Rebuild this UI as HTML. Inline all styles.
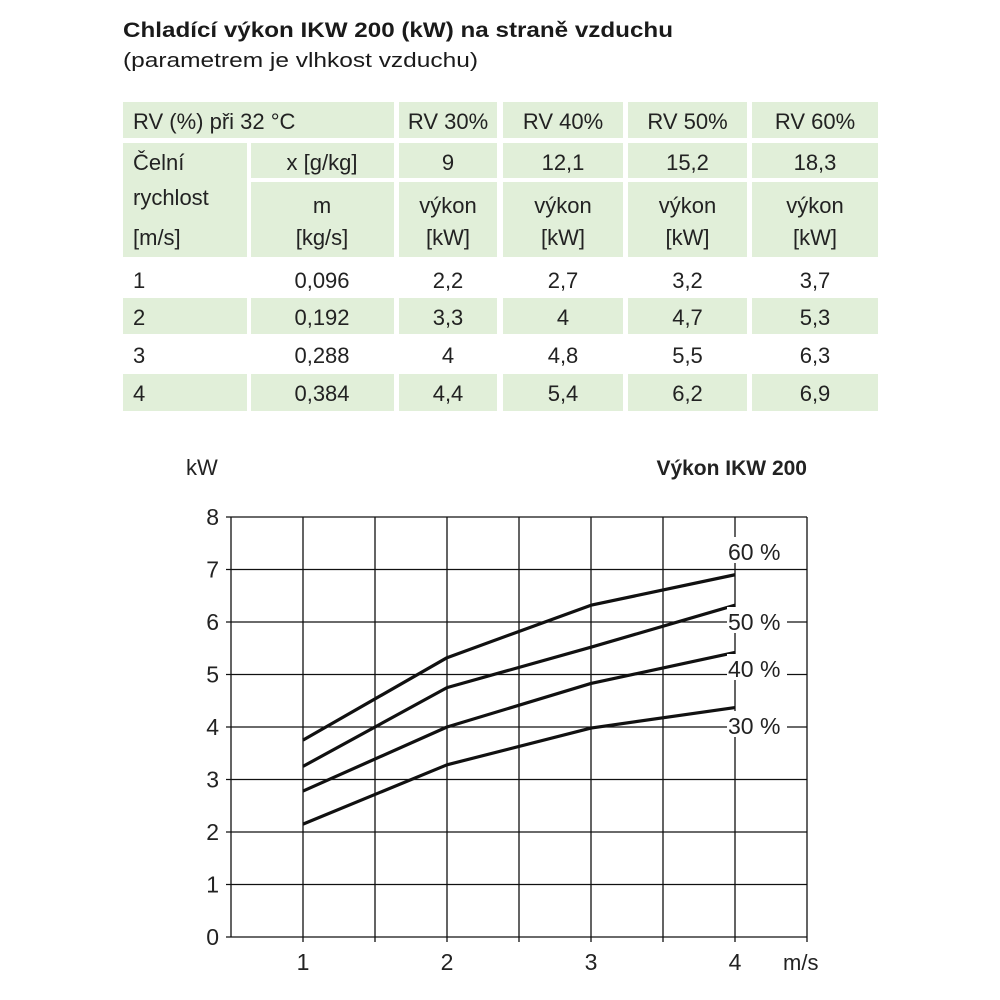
<!DOCTYPE html>
<html><head><meta charset="utf-8"><style>
body{margin:0;background:#fff}
svg{display:block;font-family:"Liberation Sans",sans-serif}
</style></head><body>
<svg id="root" width="1000" height="1000" viewBox="0 0 1000 1000" xmlns="http://www.w3.org/2000/svg">
<text x="123" y="37" font-size="21" font-weight="bold" fill="#1a1a1a" textLength="550" lengthAdjust="spacingAndGlyphs">Chladící výkon IKW 200 (kW) na straně vzduchu</text>
<text x="123" y="67" font-size="20" fill="#1a1a1a" textLength="355" lengthAdjust="spacingAndGlyphs">(parametrem je vlhkost vzduchu)</text>
<g id="table"></g>
<g id="chart"></g>
</svg>
<script>
const NS="http://www.w3.org/2000/svg";
function mk(tag,attrs,parent,txt){const e=document.createElementNS(NS,tag);for(const k in attrs)e.setAttribute(k,attrs[k]);if(txt!==undefined)e.textContent=txt;parent.appendChild(e);return e;}
// ---- table ----
const tbl=document.getElementById('table');
const G="#e1efd9";
const colX=[[123,247],[251,394],[399,497],[503,623],[628,747],[752,878]];
function cell(x0,x1,y0,y1,fill){if(fill){const r=mk('rect',{x:x0,y:y0,width:x1-x0,height:y1-y0,fill:fill},tbl);

}}
function tx(x,y,s,anchor){const t=mk('text',{x:x,y:y,'font-size':22,fill:'#222','text-anchor':anchor||'middle'},tbl,s);

}
// header row
cell(123,394,102,138,G);for(let i=2;i<6;i++)cell(colX[i][0],colX[i][1],102,138,G);
tx(133,129,"RV (%) při 32 °C","start");
const hdr=["RV 30%","RV 40%","RV 50%","RV 60%"];
hdr.forEach((h,i)=>tx((colX[i+2][0]+colX[i+2][1])/2,129,h));
// row 2/3
cell(123,247,143,257,G);
for(let i=1;i<6;i++){cell(colX[i][0],colX[i][1],143,178,G);cell(colX[i][0],colX[i][1],182,257,G);}
tx(133,170,"Čelní","start");tx(133,205,"rychlost","start");tx(133,245,"[m/s]","start");
tx(322,170,"x [g/kg]");
const xg=["9","12,1","15,2","18,3"];xg.forEach((h,i)=>tx((colX[i+2][0]+colX[i+2][1])/2,170,h));
tx(322,213,"m");tx(322,245,"[kg/s]");
for(let i=2;i<6;i++){tx((colX[i][0]+colX[i][1])/2,213,"výkon");tx((colX[i][0]+colX[i][1])/2,245,"[kW]");}
const rowsY=[[261,296],[298,334],[336,372],[374,411]];
const speeds=["1","2","3","4"];
const mass=["0,096","0,192","0,288","0,384"];
const tv30=["2,2","3,3","4","4,4"],tv40=["2,7","4","4,8","5,4"],tv50=["3,2","4,7","5,5","6,2"],tv60=["3,7","5,3","6,3","6,9"];
rowsY.forEach((r,j)=>{
  if(j%2==1)for(let i=0;i<6;i++)cell(colX[i][0],colX[i][1],r[0],r[1],G);
  const by=r[0]+27;
  tx(133,by,speeds[j],"start");tx(322,by,mass[j]);
  [tv30,tv40,tv50,tv60].forEach((arr,i)=>tx((colX[i+2][0]+colX[i+2][1])/2,by,arr[j]));
});
// ---- chart ----
const ch=document.getElementById('chart');
const xCats=[1,2,3,4];
const s30=[2.15,3.28,3.98,4.37];
const s40=[2.78,4.0,4.83,5.42];
const s50=[3.25,4.75,5.52,6.32];
const s60=[3.75,5.32,6.32,6.9];
const yTicks=[0,1,2,3,4,5,6,7,8];
const xTicks=[1,2,3,4];
const labels=["30 %","40 %","50 %","60 %"];
const X=v=>303+(v-1)*144;
const Y=v=>937-v*52.5;
// grid
for(let v=0.5;v<=4.5001;v+=0.5){const l=mk('line',{x1:X(v),x2:X(v),y1:Y(8),y2:Y(0)+ (v===0.5?0:5),stroke:'#111','stroke-width':1.3},ch);

}
yTicks.forEach(v=>{const l=mk('line',{x1:X(0.5)-5,x2:X(4.5),y1:Y(v),y2:Y(v),stroke:'#111','stroke-width':1.3},ch);


const t=mk('text',{x:X(0.5)-12,y:Y(v)+8,'font-size':23,fill:'#222','text-anchor':'end'},ch,String(v));

});
xTicks.forEach(v=>{const t=mk('text',{x:X(v),y:970,'font-size':23,fill:'#222','text-anchor':'middle'},ch,String(v));

});
// series
[s30,s40,s50,s60].forEach((s,i)=>{const p=mk('polyline',{points:s.map((v,k)=>X(xCats[k])+','+Y(v)).join(' '),fill:'none',stroke:'#111','stroke-width':3.2,'stroke-linejoin':'round'},ch);

});
// labels with white background
const labY=[725,668,621,551];
labels.forEach((s,i)=>{const r=mk('rect',{x:727,y:labY[i]-14,width:60,height:26,fill:'#fff'},ch);


const t=mk('text',{x:728,y:labY[i]+9,'font-size':23,fill:'#222'},ch,s);

});
const a=mk('text',{x:186,y:475,'font-size':22,fill:'#222'},ch,"kW");


const b=mk('text',{x:783,y:970,'font-size':22,fill:'#222'},ch,"m/s");


const c=mk('text',{x:807,y:475,'font-size':21,'font-weight':'bold',fill:'#222','text-anchor':'end'},ch,"Výkon IKW 200");


</script>
</body></html>
